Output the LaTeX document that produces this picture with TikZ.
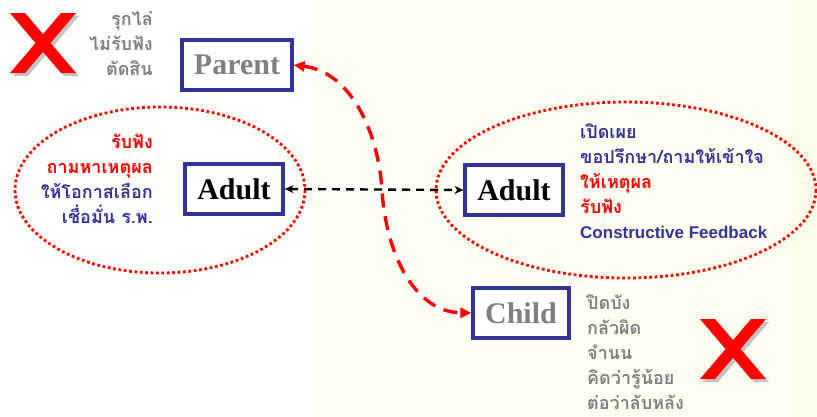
\documentclass[tikz,border=0pt]{standalone}
\usepackage{fontspec}
\setmainfont{Liberation Serif}
\newfontfamily\thai[Script=Thai]{Loma}
\newfontfamily\arialfont{Liberation Sans}
\usetikzlibrary{arrows.meta}

\definecolor{xred}{RGB}{255,0,0}
\definecolor{tanavy}{RGB}{51,51,153}
\definecolor{tagray}{RGB}{128,128,128}
\definecolor{xshadow}{RGB}{196,196,196}
\definecolor{bgcream}{RGB}{255,255,238}

\tikzset{
  tabox/.style={draw=tanavy, line width=3.2pt, fill=white, inner sep=0pt,
    minimum width=#1, minimum height=50pt,
    font=\fontsize{30}{30}\selectfont\bfseries},
  tabox/.default=98pt,
  thaitext/.style={inner sep=0pt, font=\thai\bfseries\fontsize{18}{25}\selectfont},
  dotring/.style={draw=xred, line width=2.8pt, dash pattern=on 2.8pt off 2.6pt},
  swing/.style={draw=xred, line width=3.4pt, dash pattern=on 14pt off 9pt,
    {Triangle[length=11pt,width=10pt]}-{Triangle[length=11pt,width=10pt]}},
  talk/.style={draw=black, line width=2.4pt, dash pattern=on 8pt off 6pt,
    {Stealth[length=9pt,width=8pt]}-{Stealth[length=9pt,width=8pt]}},
  bigx/.pic={
    \begin{scope}[shift={(3,3)}]
      \fill[xshadow] (0,0) -- (15,0) -- (66,60) -- (51,60) -- cycle;
      \fill[xshadow] (51,0) -- (66,0) -- (15,60) -- (0,60) -- cycle;
    \end{scope}
    \fill[xred] (0,0) -- (15,0) -- (66,60) -- (51,60) -- cycle;
    \fill[xred] (51,0) -- (66,0) -- (15,60) -- (0,60) -- cycle;
  }
}

\begin{document}
\begin{tikzpicture}[x=1pt,y=-1pt]
  % page and its pale background
  \useasboundingbox (0,0) rectangle (817,416);
  \shade[left color=white, right color=bgcream] (0,0) rectangle (817,416);

  % the two ego-state rings
  \draw[dotring] (160,190) ellipse [x radius=145, y radius=83];
  \draw[dotring] (626,190) ellipse [x radius=190, y radius=88];

  % ego-state boxes
  \node[tabox=110pt, text=tagray] (parent) at (237,65) {Parent};
  \node[tabox] (adultL) at (234,189) {Adult};
  \node[tabox] (adultR) at (514,190) {Adult};
  \node[tabox=96pt, text=tagray] (child) at (521,313) {Child};

  % transactions
  \draw[talk] (adultL.east) -- (adultR.west);
  \draw[swing] (parent.east) .. controls (350,72) and (378,130) .. (382,190)
    .. controls (386,255) and (415,312) .. (child.west);

  % crossed-out reactions
  \pic at (10,13) {bigx};
  \pic at (700,319) {bigx};

  % notes beside each ego state
  \node[thaitext, text=tagray, align=right, anchor=east] (noteP) at (153,44)
    {รุกไล่\\ไม่รับฟัง\\ตัดสิน};
  \node[thaitext, align=right, anchor=east] (noteL) at (153,179)
    {\color{xred}รับฟัง\\\color{xred}ถามหาเหตุผล\\\color{tanavy}ให้โอกาสเลือก\\\color{tanavy}เชื่อมั่น ร.พ.};
  \node[thaitext, align=left, anchor=west] (noteR) at (580,181)
    {\color{tanavy}เปิดเผย\\\color{tanavy}ขอปรึกษา/ถามให้เข้าใจ\\\color{xred}ให้เหตุผล\\\color{xred}รับฟัง\\
     \color{tanavy}\arialfont\bfseries\fontsize{17}{27}\selectfont Constructive Feedback};
  \node[thaitext, text=tagray, align=left, anchor=west] (noteC) at (587,352)
    {ปิดบัง\\กลัวผิด\\จำนน\\คิดว่ารู้น้อย\\ต่อว่าลับหลัง};
\end{tikzpicture}
\end{document}
